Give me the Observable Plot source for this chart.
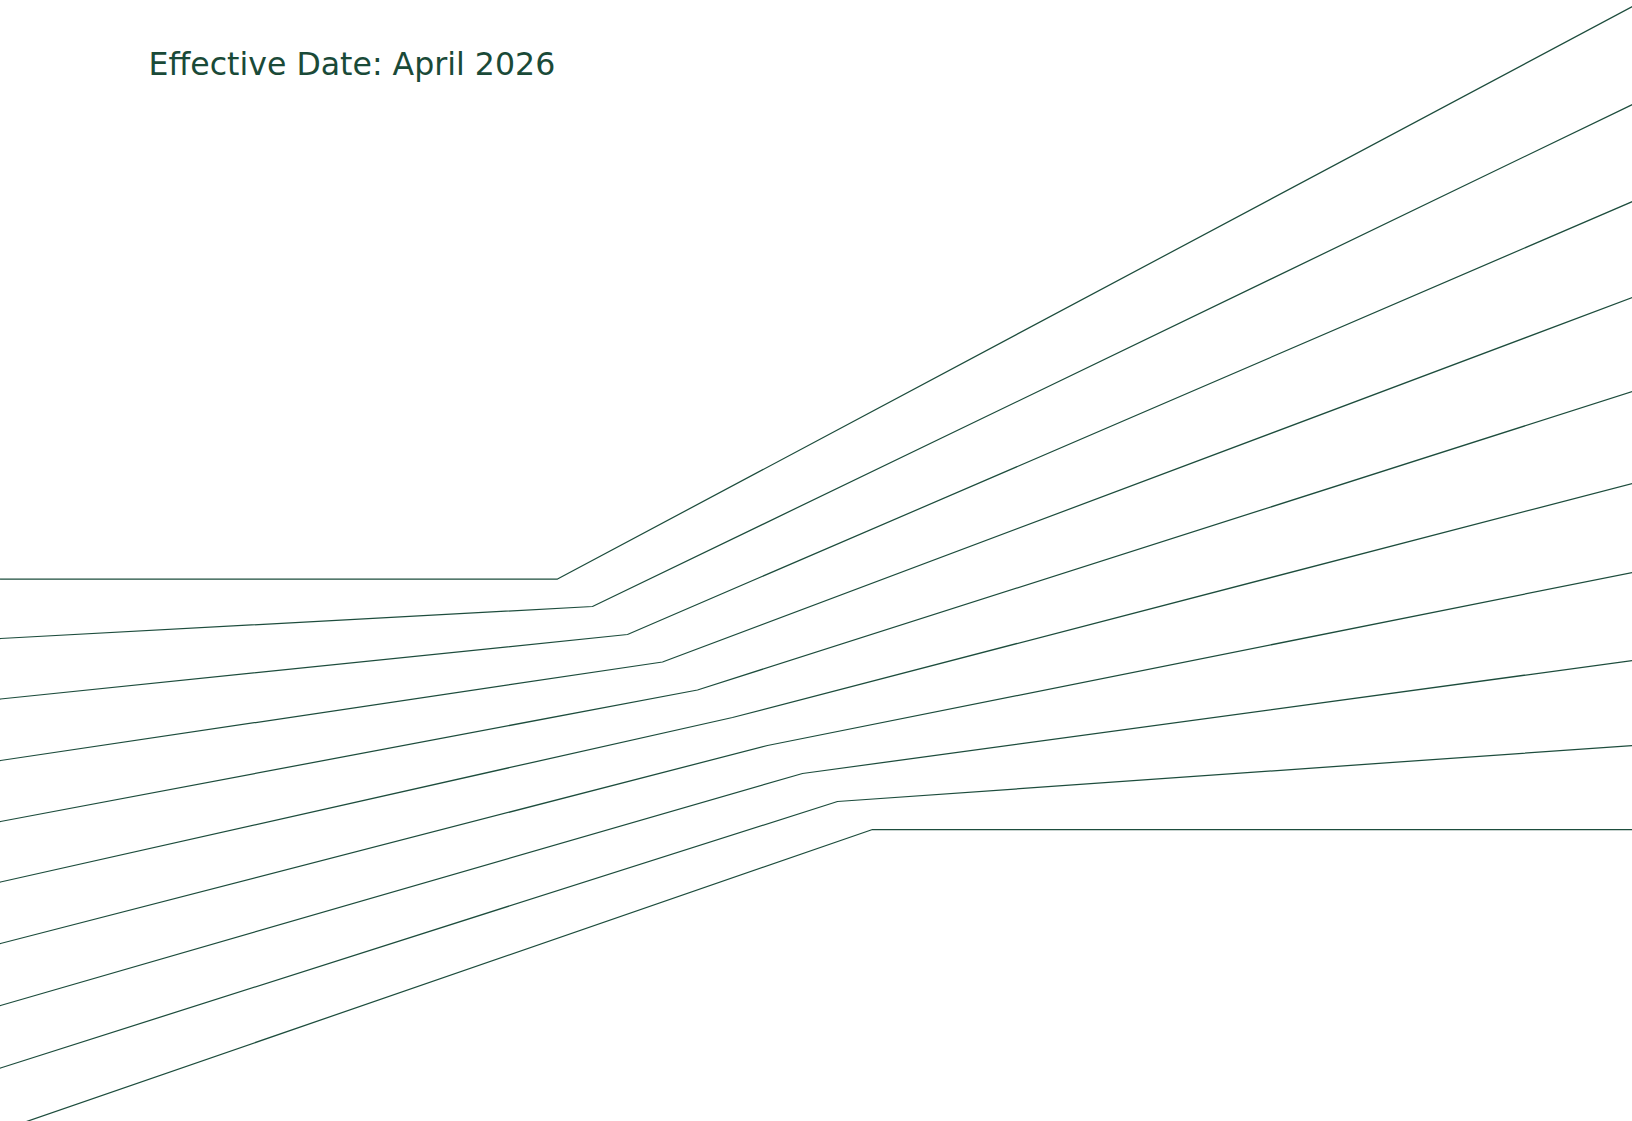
<!DOCTYPE html>
<html>
<head>
<meta charset="utf-8">
<script src="https://cdn.jsdelivr.net/npm/d3@7"></script>
<script src="https://cdn.jsdelivr.net/npm/@observablehq/plot@0.6"></script>
<style>
  html, body { margin: 0; padding: 0; background: #ffffff; overflow: hidden; }
  #chart svg { display: block; }
</style>
</head>
<body>
<div id="chart"></div>
<script>
// Ten fanned polylines: left edge -> bend -> right edge
const seriesIds = [1, 2, 3, 4, 5, 6, 7, 8, 9, 10];
const leftX  = [0, 0, 0, 0, 0, 0, 0, 0, 0, 0];
const leftY  = [578.5, 638, 698.5, 760, 821, 881.5, 943, 1005, 1067.5, 1130];
const bendX  = [557, 592, 627, 662, 697, 732, 767, 802, 837, 872];
const bendY  = [578.5, 606, 634, 661.5, 689.5, 717, 745, 773, 801, 829];
const rightX = [1632, 1632, 1632, 1632, 1632, 1632, 1632, 1632, 1632, 1632];
const rightY = [6, 104, 201, 297, 391, 483, 572, 660, 745, 829];
const titleText = "Effective Date: April 2026";

const W = 1632, H = 1121;
const ink = "#1d4d3d";

const rows = seriesIds.flatMap((id, i) => [
  {id, x: leftX[i], y: leftY[i]},
  {id, x: bendX[i], y: bendY[i]},
  {id, x: rightX[i], y: rightY[i]}
]);

const chart = Plot.plot({
  width: W,
  height: H,
  margin: 0,
  x: {domain: [0, W], range: [0, W], axis: null},
  y: {domain: [0, H], range: [0, H], axis: null},
  style: {background: "#ffffff"},
  marks: [
    Plot.line(rows, {x: "x", y: "y", z: "id", stroke: ink, strokeWidth: 1.25, clip: "frame", curve: "linear"}),
    Plot.text([titleText], {
      frameAnchor: "top-left", dx: 148, dy: 74,
      textAnchor: "start", lineAnchor: "bottom",
      fontSize: 31.6, fontFamily: "'DejaVu Sans', sans-serif",
      fill: "#1a4a38"
    })
  ]
});
document.getElementById("chart").appendChild(chart);
</script>
</body>
</html>
